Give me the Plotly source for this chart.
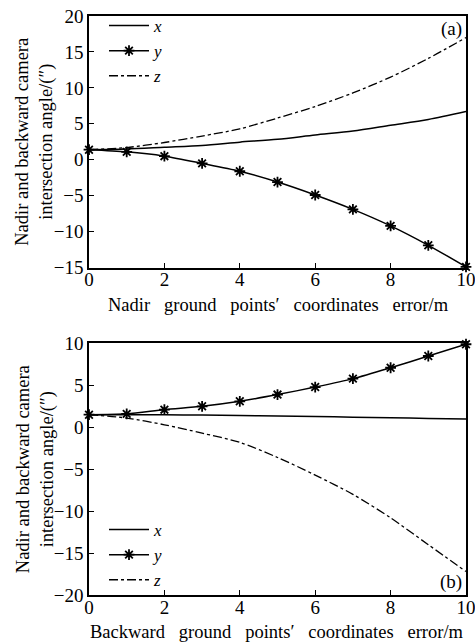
import plotly.graph_objects as go

err = [0, 1, 2, 3, 4, 5, 6, 7, 8, 9, 10]

# (a) Nadir ground points' coordinates error
a_x = [1.4, 1.5, 1.75, 2.0, 2.45, 2.85, 3.45, 4.0, 4.8, 5.6, 6.7]
a_y = [1.4, 1.1, 0.5, -0.5, -1.6, -3.1, -4.9, -6.9, -9.2, -11.9, -14.9]
a_z = [1.4, 1.7, 2.4, 3.3, 4.3, 5.8, 7.4, 9.3, 11.5, 14.1, 17.0]

# (b) Backward ground points' coordinates error
b_x = [1.5, 1.5, 1.5, 1.45, 1.4, 1.35, 1.3, 1.2, 1.15, 1.05, 1.0]
b_y = [1.5, 1.6, 2.1, 2.5, 3.1, 3.9, 4.8, 5.8, 7.1, 8.5, 9.9]
b_z = [1.5, 1.1, 0.3, -0.7, -1.8, -3.6, -5.7, -8.0, -10.8, -14.0, -17.2]

series_names = ["x", "y", "z"]
FONT = "Liberation Serif"

fig = go.Figure()

def add_series(xs, ys_list, xa, ya, legend):
    styles = [
        dict(mode="lines", line=dict(color="black", width=1.5, shape="spline", smoothing=0.8)),
        dict(mode="lines+markers", line=dict(color="black", width=1.5, shape="spline", smoothing=0.8),
             marker=dict(symbol="asterisk", size=9, line=dict(color="black", width=1.8))),
        dict(mode="lines", line=dict(color="black", width=1.3, dash="dashdot", shape="spline", smoothing=0.8)),
    ]
    for name, ys, st in zip(series_names, ys_list, styles):
        fig.add_trace(go.Scatter(x=xs, y=ys, name="<i>%s</i>" % name, xaxis=xa, yaxis=ya,
                                 legend=legend, cliponaxis=False, **st))

add_series(err, [a_x, a_y, a_z], "x", "y", "legend")
add_series(err, [b_x, b_y, b_z], "x2", "y2", "legend2")

ytitle = "Nadir and backward camera<br>intersection angle/(″)"
sp = "&nbsp;&nbsp;&nbsp;"
xtitle_a = sp.join(["Nadir", "ground", "points′", "coordinates", "error/m"])
xtitle_b = sp.join(["Backward", "ground", "points′", "coordinates", "error/m"])

axcommon = dict(showline=True, linecolor="black", linewidth=1.5, mirror=True,
                ticks="inside", ticklen=5, tickcolor="black", showgrid=False, zeroline=False,
                automargin=False, ticklabeloverflow="allow",
                tickfont=dict(family=FONT, size=19, color="black"))

L, R, T, B = 89, 9, 15, 49
PW = 475 - L - R
PH = 644 - T - B
dom_a = [0.5655, 1]
dom_b = [0, 0.4345]

def px_x(p):
    return (p - L) / PW

def px_y(p):
    return (644 - B - p) / PH

fig.update_layout(
    width=475, height=644,
    margin=dict(l=L, r=R, t=T, b=B),
    paper_bgcolor="white", plot_bgcolor="white",
    font=dict(family=FONT, color="black"),
    showlegend=True,
    xaxis=dict(domain=[0, 1], anchor="y", range=[0, 10], dtick=2, ticklabelstandoff=-6, **axcommon),
    yaxis=dict(domain=dom_a, anchor="x", range=[-15, 20], dtick=5, **axcommon),
    xaxis2=dict(domain=[0, 1], anchor="y2", range=[0, 10], dtick=2, ticklabelstandoff=-6, **axcommon),
    yaxis2=dict(domain=dom_b, anchor="x2", range=[-20, 10], dtick=5, **axcommon),
    legend=dict(x=px_x(104), y=px_y(8), xanchor="left", yanchor="top", bgcolor="rgba(0,0,0,0)",
                font=dict(family=FONT, size=17), tracegroupgap=0, itemwidth=40),
    legend2=dict(x=px_x(104), y=px_y(598), xanchor="left", yanchor="bottom", bgcolor="rgba(0,0,0,0)",
                 font=dict(family=FONT, size=17), tracegroupgap=0, itemwidth=40),
    annotations=[
        dict(text="(a)", x=0.995, y=1.0, xref="paper", yref="paper", xanchor="right",
             yanchor="top", showarrow=False, font=dict(family=FONT, size=19)),
        dict(text="(b)", x=0.995, y=0.0, xref="paper", yref="paper", xanchor="right",
             yanchor="bottom", showarrow=False, font=dict(family=FONT, size=19)),
        dict(text=ytitle, textangle=-90, x=px_x(35), y=sum(dom_a) / 2, xref="paper", yref="paper",
             xanchor="center", yanchor="middle", showarrow=False,
             font=dict(family=FONT, size=18.5)),
        dict(text=ytitle, textangle=-90, x=px_x(35), y=sum(dom_b) / 2, xref="paper", yref="paper",
             xanchor="center", yanchor="middle", showarrow=False,
             font=dict(family=FONT, size=18.5)),
        dict(text=xtitle_a, x=px_x(278), y=px_y(304), xref="paper", yref="paper",
             xanchor="center", yanchor="middle", showarrow=False,
             font=dict(family=FONT, size=18.5)),
        dict(text=xtitle_b, x=px_x(277), y=px_y(632), xref="paper", yref="paper",
             xanchor="center", yanchor="middle", showarrow=False,
             font=dict(family=FONT, size=18.5)),
    ],
)

fig.write_html("out.html", config={"displayModeBar": False},
               post_script="document.body.style.margin='0';document.body.style.overflow='hidden';")
